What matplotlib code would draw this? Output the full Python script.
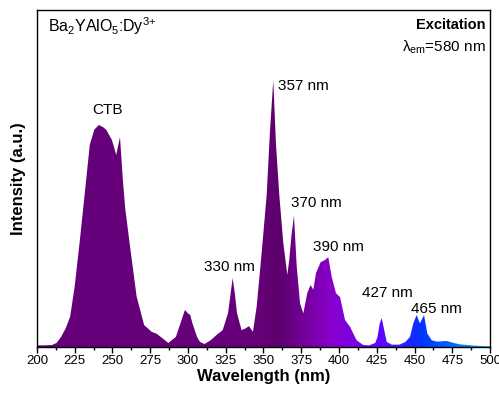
import numpy as np
import matplotlib
matplotlib.use("Agg")
import matplotlib.pyplot as plt
from matplotlib.colors import LinearSegmentedColormap
from matplotlib.ticker import MultipleLocator

plt.rcParams['font.family'] = ['Liberation Sans', 'DejaVu Sans']
plt.rcParams['mathtext.fontset'] = 'custom'
plt.rcParams['mathtext.rm'] = 'Liberation Sans'
plt.rcParams['mathtext.it'] = 'Liberation Sans:italic'
plt.rcParams['mathtext.bf'] = 'Liberation Sans:bold'

# excitation spectrum (lambda_em = 580 nm), normalised intensity
wavelength = [200, 205, 210, 213, 216, 219, 222, 225, 228.5, 232, 235, 238, 241, 244,
              246, 249.7, 252.5, 255, 257, 258.5, 261.6, 266, 271, 276, 279, 282, 287,
              292, 295, 298, 300, 301.5, 303, 306, 308, 311, 315, 319, 323, 326.5, 328,
              329.6, 331, 332.5, 335.5, 338, 340.4, 343, 345.5, 348.8, 352.1, 354.3,
              356.5, 358.3, 360.5, 363.1, 365.8, 367.1, 368.5, 370.2, 372, 374.2, 376.4,
              379, 381.2, 383, 384.8, 387.9, 390.7, 392.9, 395.2, 398, 400.7, 404, 407.3,
              411.7, 416, 420, 424, 425.5, 427, 428.3, 429.5, 431.6, 435, 440, 444, 447,
              449.2, 451.4, 453.6, 456.3, 458.5, 461.4, 465, 471.3, 476, 480, 490, 500]
intensity = [0.005, 0.005, 0.006, 0.012, 0.03, 0.055, 0.09, 0.18, 0.32, 0.47, 0.6, 0.645,
             0.659, 0.652, 0.644, 0.614, 0.57, 0.623, 0.49, 0.41, 0.3, 0.15, 0.065, 0.045,
             0.04, 0.03, 0.012, 0.03, 0.07, 0.11, 0.1, 0.095, 0.07, 0.03, 0.015, 0.009,
             0.02, 0.036, 0.05, 0.1, 0.15, 0.205, 0.16, 0.1, 0.05, 0.055, 0.062, 0.045,
             0.12, 0.28, 0.45, 0.64, 0.792, 0.6, 0.45, 0.31, 0.214, 0.26, 0.33, 0.39,
             0.24, 0.13, 0.1, 0.16, 0.184, 0.17, 0.22, 0.252, 0.258, 0.267, 0.208, 0.16,
             0.148, 0.08, 0.06, 0.02, 0.006, 0.005, 0.012, 0.03, 0.07, 0.086, 0.06, 0.015,
             0.007, 0.007, 0.015, 0.03, 0.07, 0.095, 0.07, 0.095, 0.04, 0.02, 0.016, 0.018,
             0.012, 0.008, 0.004, 0.002]

# peak annotations: text, left/centre x, baseline y
peak_labels = ["CTB", "330 nm", "357 nm", "370 nm", "390 nm", "427 nm", "465 nm"]
peak_x = [247, 310.6, 359.6, 368, 382.8, 415.2, 447.7]
peak_y = [0.69, 0.225, 0.762, 0.415, 0.285, 0.148, 0.10]
peak_ha = ["center", "left", "left", "left", "left", "left", "left"]

# colour stops along the wavelength axis
stop_nm = [200, 345, 360, 395, 425, 455, 500]
stop_col = ["#66007a", "#66007a", "#5e006c", "#8a00cc", "#6a00ff", "#0035ff", "#00aaff"]

fig = plt.figure(figsize=(4.99, 3.96), dpi=100)
ax = fig.add_axes([0.074, 0.1237, 0.908, 0.851])

x0, x1 = 200, 500
cmap = LinearSegmentedColormap.from_list(
    "spec", [((n - x0) / (x1 - x0), c) for n, c in zip(stop_nm, stop_col)])

poly = ax.fill_between(wavelength, 0, intensity, facecolor="none", edgecolor="none")
grad = np.linspace(0, 1, 600).reshape(1, -1)
img = ax.imshow(grad, cmap=cmap, extent=[x0, x1, 0, 1], aspect="auto",
                origin="lower", interpolation="bilinear", zorder=1)
img.set_clip_path(poly.get_paths()[0], transform=ax.transData)

for t, x, y, ha in zip(peak_labels, peak_x, peak_y, peak_ha):
    ax.text(x, y, t, fontsize=11, ha=ha, va="baseline")

ax.text(0.025, 0.985, r"Ba$_\mathrm{2}$YAlO$_\mathrm{5}$:Dy$^\mathrm{3{+}}$",
        transform=ax.transAxes, fontsize=11.5, ha="left", va="top")
ax.text(0.99, 0.975, "Excitation", transform=ax.transAxes, fontsize=10.5,
        fontweight="bold", ha="right", va="top")
ax.text(0.99, 0.915, r"λ$_\mathrm{em}$=580 nm", transform=ax.transAxes,
        fontsize=11, ha="right", va="top")

ax.set_xlim(x0, x1)
ax.set_ylim(0, 1)
ax.xaxis.set_major_locator(MultipleLocator(25))
ax.xaxis.set_minor_locator(MultipleLocator(12.5))
ax.tick_params(axis="x", which="major", direction="out", length=4, width=1,
               labelsize=9.5, pad=2)
ax.tick_params(axis="x", which="minor", direction="out", length=2.5, width=1)
ax.set_yticks([])
for s in ax.spines.values():
    s.set_linewidth(1)

ax.set_xlabel("Wavelength (nm)", fontsize=12, fontweight="bold", labelpad=1)
ax.set_ylabel("Intensity (a.u.)", fontsize=12, fontweight="bold", labelpad=8)

fig.savefig("out.png", dpi=100)
